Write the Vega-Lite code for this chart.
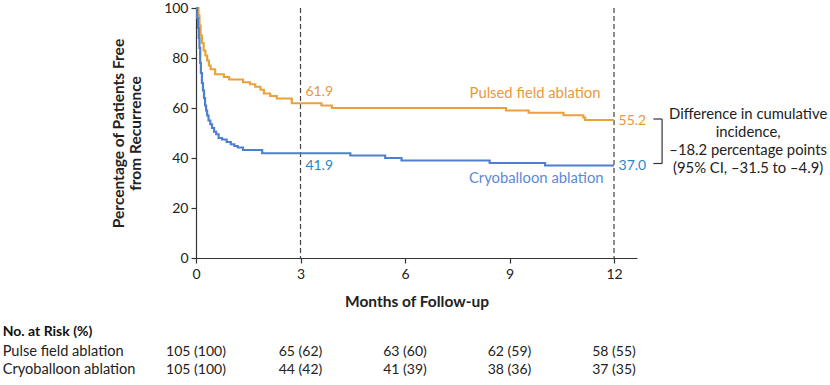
{
  "$schema": "https://vega.github.io/schema/vega-lite/v6.json",
  "width": 441,
  "height": 250,
  "autosize": {"type": "none"},
  "padding": {"left": 196, "top": 8, "right": 193, "bottom": 127},
  "background": "white",
  "config": {
    "view": {"stroke": null},
    "font": "Lato",
    "text": {"font": "Lato"},
    "axis": {"labelFont": "Lato", "titleFont": "Lato", "grid": false, "labelFlush": false, "domainColor": "#333", "tickColor": "#333", "labelColor": "#222", "titleColor": "#222", "labelFontSize": 14, "titleFontSize": 15.5, "titleFontWeight": "bold", "tickSize": 5, "domainWidth": 1.2, "tickWidth": 1.2}
  },
  "datasets": {
    "km": [
      {"group": "Pulsed field ablation", "month": 0, "value": 100},
      {"group": "Pulsed field ablation", "month": 0.07, "value": 97},
      {"group": "Pulsed field ablation", "month": 0.1, "value": 93},
      {"group": "Pulsed field ablation", "month": 0.13, "value": 89},
      {"group": "Pulsed field ablation", "month": 0.17, "value": 86},
      {"group": "Pulsed field ablation", "month": 0.22, "value": 83},
      {"group": "Pulsed field ablation", "month": 0.27, "value": 81},
      {"group": "Pulsed field ablation", "month": 0.32, "value": 79},
      {"group": "Pulsed field ablation", "month": 0.37, "value": 77},
      {"group": "Pulsed field ablation", "month": 0.42, "value": 75.5},
      {"group": "Pulsed field ablation", "month": 0.55, "value": 73.5},
      {"group": "Pulsed field ablation", "month": 0.8, "value": 72.4},
      {"group": "Pulsed field ablation", "month": 0.95, "value": 71.4},
      {"group": "Pulsed field ablation", "month": 1.35, "value": 70.3},
      {"group": "Pulsed field ablation", "month": 1.55, "value": 69.5},
      {"group": "Pulsed field ablation", "month": 1.7, "value": 68.5},
      {"group": "Pulsed field ablation", "month": 1.85, "value": 67.3},
      {"group": "Pulsed field ablation", "month": 1.95, "value": 65.8},
      {"group": "Pulsed field ablation", "month": 2.13, "value": 64.8},
      {"group": "Pulsed field ablation", "month": 2.32, "value": 63.8},
      {"group": "Pulsed field ablation", "month": 2.75, "value": 61.9},
      {"group": "Pulsed field ablation", "month": 3.6, "value": 61},
      {"group": "Pulsed field ablation", "month": 3.9, "value": 60},
      {"group": "Pulsed field ablation", "month": 8.9, "value": 59},
      {"group": "Pulsed field ablation", "month": 9.55, "value": 58.1},
      {"group": "Pulsed field ablation", "month": 10.55, "value": 57.1},
      {"group": "Pulsed field ablation", "month": 11.12, "value": 56.2},
      {"group": "Pulsed field ablation", "month": 11.17, "value": 55.2},
      {"group": "Pulsed field ablation", "month": 12, "value": 55.2},
      {"group": "Cryoballoon ablation", "month": 0, "value": 100},
      {"group": "Cryoballoon ablation", "month": 0.03, "value": 96},
      {"group": "Cryoballoon ablation", "month": 0.06, "value": 92},
      {"group": "Cryoballoon ablation", "month": 0.08, "value": 88},
      {"group": "Cryoballoon ablation", "month": 0.1, "value": 84},
      {"group": "Cryoballoon ablation", "month": 0.12, "value": 78},
      {"group": "Cryoballoon ablation", "month": 0.14, "value": 74},
      {"group": "Cryoballoon ablation", "month": 0.17, "value": 70},
      {"group": "Cryoballoon ablation", "month": 0.2, "value": 67},
      {"group": "Cryoballoon ablation", "month": 0.23, "value": 64},
      {"group": "Cryoballoon ablation", "month": 0.26, "value": 61},
      {"group": "Cryoballoon ablation", "month": 0.29, "value": 59},
      {"group": "Cryoballoon ablation", "month": 0.32, "value": 57},
      {"group": "Cryoballoon ablation", "month": 0.36, "value": 55},
      {"group": "Cryoballoon ablation", "month": 0.41, "value": 53.5},
      {"group": "Cryoballoon ablation", "month": 0.46, "value": 52},
      {"group": "Cryoballoon ablation", "month": 0.52, "value": 50.5},
      {"group": "Cryoballoon ablation", "month": 0.58, "value": 49.5},
      {"group": "Cryoballoon ablation", "month": 0.65, "value": 48},
      {"group": "Cryoballoon ablation", "month": 0.75, "value": 47.4},
      {"group": "Cryoballoon ablation", "month": 0.88, "value": 46.4},
      {"group": "Cryoballoon ablation", "month": 1.0, "value": 45.5},
      {"group": "Cryoballoon ablation", "month": 1.1, "value": 44.8},
      {"group": "Cryoballoon ablation", "month": 1.2, "value": 44.2},
      {"group": "Cryoballoon ablation", "month": 1.35, "value": 43.2},
      {"group": "Cryoballoon ablation", "month": 1.9, "value": 41.9},
      {"group": "Cryoballoon ablation", "month": 4.43, "value": 41},
      {"group": "Cryoballoon ablation", "month": 5.43, "value": 40},
      {"group": "Cryoballoon ablation", "month": 5.9, "value": 39},
      {"group": "Cryoballoon ablation", "month": 8.43, "value": 38},
      {"group": "Cryoballoon ablation", "month": 10.02, "value": 37},
      {"group": "Cryoballoon ablation", "month": 12, "value": 37}
    ],
    "risk": [
      {"group": "Pulse field ablation", "month": 0, "n": "105 (100)"},
      {"group": "Pulse field ablation", "month": 3, "n": "65 (62)"},
      {"group": "Pulse field ablation", "month": 6, "n": "63 (60)"},
      {"group": "Pulse field ablation", "month": 9, "n": "62 (59)"},
      {"group": "Pulse field ablation", "month": 12, "n": "58 (55)"},
      {"group": "Cryoballoon ablation", "month": 0, "n": "105 (100)"},
      {"group": "Cryoballoon ablation", "month": 3, "n": "44 (42)"},
      {"group": "Cryoballoon ablation", "month": 6, "n": "41 (39)"},
      {"group": "Cryoballoon ablation", "month": 9, "n": "38 (36)"},
      {"group": "Cryoballoon ablation", "month": 12, "n": "37 (35)"}
    ]
  },
  "layer": [
    {
      "data": {"values": [{"month": 3}, {"month": 12}]},
      "mark": {"type": "rule", "color": "#444", "strokeDash": [5, 3], "strokeWidth": 1.2},
      "encoding": {"x": {"field": "month", "type": "quantitative"}}
    },
    {
      "data": {"name": "km"},
      "mark": {"type": "line", "interpolate": "step-after", "strokeWidth": 2.2},
      "encoding": {
        "x": {"field": "month", "type": "quantitative", "scale": {"domain": [0, 12.66], "nice": false, "zero": false},
          "axis": {"values": [0, 3, 6, 9, 12], "title": "Months of Follow-up", "labelPadding": 4, "titlePadding": 13}},
        "y": {"field": "value", "type": "quantitative", "scale": {"domain": [0, 100], "nice": false},
          "axis": {"values": [0, 20, 40, 60, 80, 100], "title": ["Percentage of Patients Free", "from Recurrence"], "labelPadding": 3, "titlePadding": 20}},
        "color": {"field": "group", "type": "nominal", "scale": {"domain": ["Pulsed field ablation", "Cryoballoon ablation"], "range": ["#E9A23B", "#4F7FD0"]}, "legend": null}
      }
    },
    {
      "data": {"values": [
        {"label": "61.9", "month": 3.14, "value": 66.4, "series": "Pulsed field ablation"},
        {"label": "55.2", "month": 12.13, "value": 54.9, "series": "Pulsed field ablation"},
        {"label": "41.9", "month": 3.14, "value": 36.7, "series": "Cryoballoon ablation"},
        {"label": "37.0", "month": 12.13, "value": 37.0, "series": "Cryoballoon ablation"}
      ]},
      "mark": {"type": "text", "align": "left", "baseline": "middle", "fontSize": 14},
      "encoding": {
        "x": {"field": "month", "type": "quantitative"},
        "y": {"field": "value", "type": "quantitative"},
        "text": {"field": "label"},
        "color": {"condition": {"test": "datum.series === 'Pulsed field ablation'", "value": "#E8993C"}, "value": "#2A86C8"}
      }
    },
    {
      "data": {"values": [
        {"label": "Pulsed field ablation", "month": 11.61, "value": 65.8},
        {"label": "Cryoballoon ablation", "month": 11.7, "value": 31.8}
      ]},
      "mark": {"type": "text", "align": "right", "baseline": "middle", "fontSize": 14.8},
      "encoding": {
        "x": {"field": "month", "type": "quantitative"},
        "y": {"field": "value", "type": "quantitative"},
        "text": {"field": "label"},
        "color": {"condition": {"test": "datum.label === 'Pulsed field ablation'", "value": "#E8993C"}, "value": "#5B8AD4"}
      }
    },
    {
      "data": {"values": [
        {"x1": 13.13, "x2": 13.38, "y1": 55.6, "y2": 55.6},
        {"x1": 13.13, "x2": 13.38, "y1": 37.8, "y2": 37.8},
        {"x1": 13.38, "x2": 13.38, "y1": 55.6, "y2": 37.8}
      ]},
      "mark": {"type": "rule", "color": "#333", "strokeWidth": 1.2},
      "encoding": {
        "x": {"field": "x1", "type": "quantitative"},
        "x2": {"field": "x2"},
        "y": {"field": "y1", "type": "quantitative"},
        "y2": {"field": "y2"}
      }
    },
    {
      "data": {"values": [{"label": "Difference in cumulative\nincidence,\n\u201318.2 percentage points\n(95% CI, \u201331.5 to \u20134.9)", "month": 15.85, "value": 60.4}]},
      "mark": {"type": "text", "align": "center", "baseline": "top", "fontSize": 14.8, "lineBreak": "\n", "lineHeight": 18, "color": "#222"},
      "encoding": {
        "x": {"field": "month", "type": "quantitative"},
        "y": {"field": "value", "type": "quantitative"},
        "text": {"field": "label"}
      }
    },
    {
      "data": {"values": [{"label": "No. at Risk (%)", "month": -5.55, "value": -29.4}]},
      "mark": {"type": "text", "align": "left", "baseline": "middle", "fontSize": 14, "fontWeight": "bold", "color": "#111"},
      "encoding": {"x": {"field": "month", "type": "quantitative"}, "y": {"field": "value", "type": "quantitative"}, "text": {"field": "label"}}
    },
    {
      "data": {"values": [{"label": "Pulse field ablation", "month": -5.55, "value": -37.5}, {"label": "Cryoballoon ablation", "month": -5.55, "value": -44.7}]},
      "mark": {"type": "text", "align": "left", "baseline": "middle", "fontSize": 14.6, "color": "#222"},
      "encoding": {"x": {"field": "month", "type": "quantitative"}, "y": {"field": "value", "type": "quantitative"}, "text": {"field": "label"}}
    },
    {
      "data": {"name": "risk"},
      "transform": [{"filter": "datum.group === 'Pulse field ablation'"}],
      "mark": {"type": "text", "align": "center", "baseline": "middle", "fontSize": 14, "color": "#222", "dy": 94},
      "encoding": {"x": {"field": "month", "type": "quantitative"}, "y": {"datum": 0}, "text": {"field": "n"}}
    },
    {
      "data": {"name": "risk"},
      "transform": [{"filter": "datum.group === 'Cryoballoon ablation'"}],
      "mark": {"type": "text", "align": "center", "baseline": "middle", "fontSize": 14, "color": "#222", "dy": 112},
      "encoding": {"x": {"field": "month", "type": "quantitative"}, "y": {"datum": 0}, "text": {"field": "n"}}
    }
  ]
}
